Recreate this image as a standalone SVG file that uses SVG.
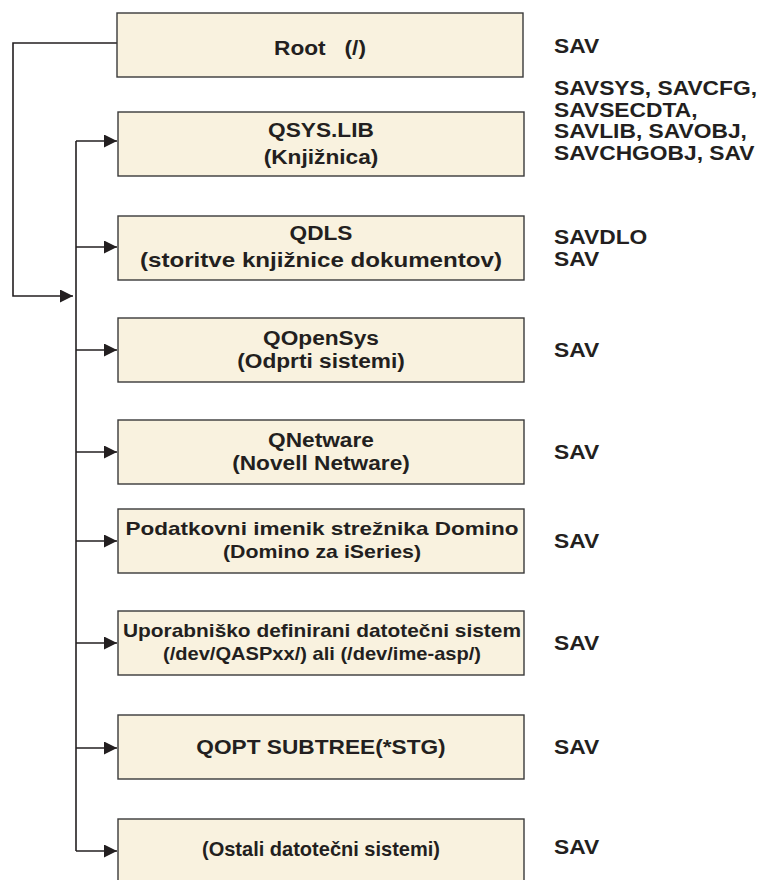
<svg xmlns="http://www.w3.org/2000/svg" width="767" height="880" viewBox="0 0 767 880">
<defs>
<marker id="arr" markerUnits="userSpaceOnUse" markerWidth="14" markerHeight="14" refX="13" refY="6.5" orient="auto">
<path d="M0,0 L13,6.5 L0,13 z" fill="#231f20"/>
</marker>
<style>
.box{fill:#f9f2df;stroke:#3a3a3a;stroke-width:1.4}
.lbl{font-family:"Liberation Sans",Arial,sans-serif;font-weight:bold;font-size:21px;fill:#231f20;text-anchor:middle;transform-box:fill-box;transform-origin:center;transform:scaleX(1.08)}
.nar{font-family:"Liberation Sans",Arial,sans-serif;font-weight:bold;font-size:19px;fill:#231f20;text-anchor:middle}
.fit{font-family:"Liberation Sans",Arial,sans-serif;font-weight:bold;font-size:21px;fill:#231f20;text-anchor:middle}
.cmd{font-family:"Liberation Sans",Arial,sans-serif;font-weight:bold;font-size:20px;fill:#231f20;transform-box:fill-box;transform-origin:0% 50%;transform:scaleX(1.14)}
.con{fill:none;stroke:#231f20;stroke-width:1.6}
</style>
</defs>
<g id="connectors">
<path class="con" d="M117,43 H13 V296 H73" marker-end="url(#arr)"/>
<path class="con" d="M76,141 V851"/>
<path class="con" d="M76,141 H117" marker-end="url(#arr)"/>
<path class="con" d="M76,247 H117" marker-end="url(#arr)"/>
<path class="con" d="M76,350 H117" marker-end="url(#arr)"/>
<path class="con" d="M76,452 H117" marker-end="url(#arr)"/>
<path class="con" d="M76,541 H117" marker-end="url(#arr)"/>
<path class="con" d="M76,643 H117" marker-end="url(#arr)"/>
<path class="con" d="M76,748 H117" marker-end="url(#arr)"/>
<path class="con" d="M76,851 H117" marker-end="url(#arr)"/>
</g>
<g id="root">
<rect class="box" x="117" y="13" width="406" height="64"/>
<text class="lbl" x="320" y="55" style="white-space:pre">Root   (/)</text>
<text class="cmd" x="554" y="53">SAV</text>
</g>
<g id="qsys">
<rect class="box" x="118" y="112" width="406" height="64"/>
<text class="lbl" x="321" y="137">QSYS.LIB</text>
<text class="lbl" x="321" y="164">(Knjižnica)</text>
<text class="cmd" x="554" y="95">SAVSYS, SAVCFG,</text>
<text class="cmd" x="554" y="117">SAVSECDTA,</text>
<text class="cmd" x="554" y="138">SAVLIB, SAVOBJ,</text>
<text class="cmd" x="554" y="160">SAVCHGOBJ, SAV</text>
</g>
<g id="qdls">
<rect class="box" x="118" y="216" width="406" height="64"/>
<text class="lbl" x="321" y="240">QDLS</text>
<text class="fit" x="321" y="267" textLength="362" lengthAdjust="spacingAndGlyphs">(storitve knjižnice dokumentov)</text>
<text class="cmd" x="554" y="244">SAVDLO</text>
<text class="cmd" x="554" y="266">SAV</text>
</g>
<g id="qopensys">
<rect class="box" x="118" y="318" width="406" height="64"/>
<text class="lbl" x="321" y="345">QOpenSys</text>
<text class="lbl" x="321" y="368">(Odprti sistemi)</text>
<text class="cmd" x="554" y="357">SAV</text>
</g>
<g id="qnetware">
<rect class="box" x="118" y="420" width="406" height="64"/>
<text class="lbl" x="321" y="447">QNetware</text>
<text class="lbl" x="321" y="470">(Novell Netware)</text>
<text class="cmd" x="554" y="459">SAV</text>
</g>
<g id="domino">
<rect class="box" x="118" y="509" width="406" height="64"/>
<text class="nar" x="322" y="535" textLength="393" lengthAdjust="spacingAndGlyphs">Podatkovni imenik strežnika Domino</text>
<text class="nar" x="322" y="558" textLength="198" lengthAdjust="spacingAndGlyphs">(Domino za iSeries)</text>
<text class="cmd" x="554" y="548">SAV</text>
</g>
<g id="udfs">
<rect class="box" x="118" y="611" width="406" height="64"/>
<text class="nar" x="322" y="637" textLength="398" lengthAdjust="spacingAndGlyphs">Uporabniško definirani datotečni sistem</text>
<text class="nar" x="322" y="660" textLength="318" lengthAdjust="spacingAndGlyphs">(/dev/QASPxx/) ali (/dev/ime-asp/)</text>
<text class="cmd" x="554" y="650">SAV</text>
</g>
<g id="qopt">
<rect class="box" x="118" y="715" width="406" height="64"/>
<text class="lbl" x="321" y="754">QOPT SUBTREE(*STG)</text>
<text class="cmd" x="554" y="754">SAV</text>
</g>
<g id="other">
<rect class="box" x="118" y="819" width="406" height="80"/>
<text class="fit" x="321" y="856" textLength="238" lengthAdjust="spacingAndGlyphs">(Ostali datotečni sistemi)</text>
<text class="cmd" x="554" y="854">SAV</text>
</g>
</svg>
